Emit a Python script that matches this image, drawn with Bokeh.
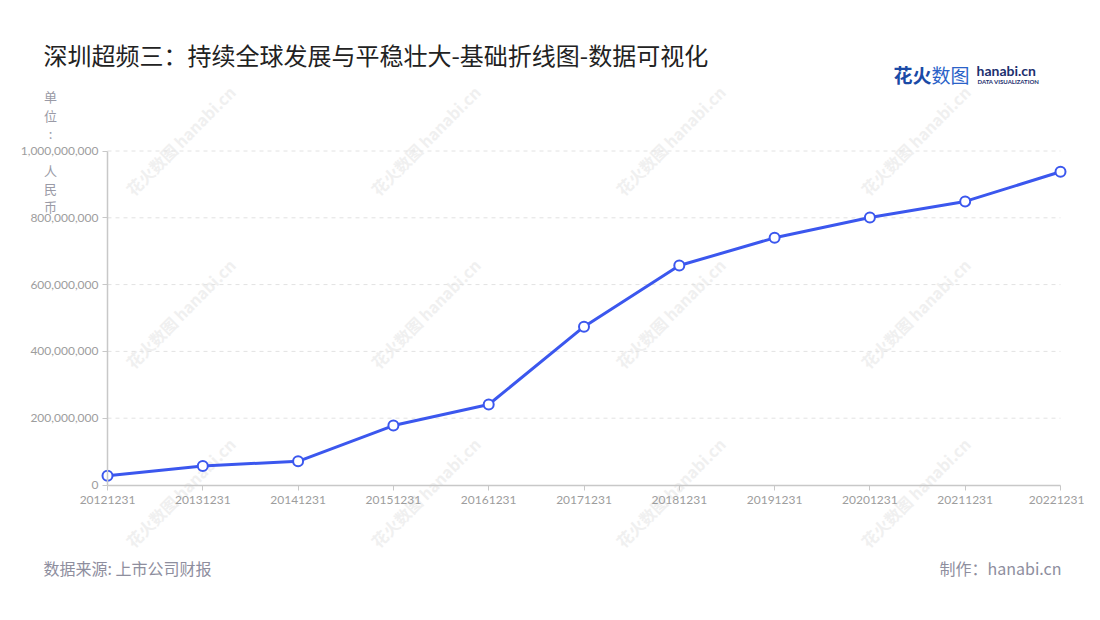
from bokeh.plotting import figure
from bokeh.models import Range1d, FixedTicker, NumeralTickFormatter, Label, ColumnDataSource
from bokeh.embed import file_html
from bokeh.resources import INLINE
import math

# ---------------- data ----------------
dates = ["20121231", "20131231", "20141231", "20151231", "20161231", "20171231",
         "20181231", "20191231", "20201231", "20211231", "20221231"]
revenue = [28e6, 57e6, 71e6, 178e6, 241e6, 474e6, 657e6, 740e6, 801e6, 849e6, 938e6]
y_ticks = [0, 200e6, 400e6, 600e6, 800e6, 1000e6]

title_text = "深圳超频三：持续全球发展与平稳壮大-基础折线图-数据可视化"
unit_top = ["单", "位", ":"]
unit_bottom = ["人", "民", "币"]
source_text = "数据来源: 上市公司财报"
maker_text = "制作：hanabi.cn"
watermark_text = "花火数图 hanabi.cn"

# ---------------- layout (pixels) ----------------
W, H = 1084, 604
X_FIRST_PX, X_LAST_PX = 107.0, 1060.0     # first / last category position
Y_ZERO_PX, Y_TOP_PX = 484.5, 150.5        # y=0 and y=1e9 positions
CJK = "Noto Sans CJK SC"
BLUE = "#3b57ee"

n = len(dates)
idx = list(range(n))
px_per_x = (X_LAST_PX - X_FIRST_PX) / (n - 1)
y_top = y_ticks[-1]
val_per_px = y_top / (Y_ZERO_PX - Y_TOP_PX)

x_range = Range1d(0 - X_FIRST_PX / px_per_x, (n - 1) + (W - X_LAST_PX) / px_per_x)
y_range = Range1d(-(H - Y_ZERO_PX) * val_per_px, y_top + Y_TOP_PX * val_per_px)

p = figure(width=W, height=H, output_backend="svg", toolbar_location=None,
           x_range=x_range, y_range=y_range, title=None,
           min_border_left=0, min_border_right=0, min_border_top=0, min_border_bottom=0)
p.outline_line_color = None
p.background_fill_color = "white"
p.border_fill_color = "white"
p.xgrid.visible = False
p.ygrid.visible = False

src = ColumnDataSource(dict(x=idx, y=revenue))

# watermarks (underlay)
for cx in [180, 425, 670, 915]:
    for cy in [140, 313, 492]:
        p.add_layout(Label(x=cx, y=H - cy, x_units="screen", y_units="screen",
                           text=watermark_text, angle=math.pi / 4, level="underlay",
                           text_font=CJK, text_font_size="16px", text_font_style="bold",
                           text_color="#f0f0f0",
                           text_align="center", text_baseline="middle"))

# dashed horizontal guide lines at the y ticks
grid_y = y_ticks[1:]
p.segment(x0=[0] * len(grid_y), x1=[n - 1] * len(grid_y), y0=grid_y, y1=grid_y,
          line_color="#e2e2e2", line_width=1, line_dash="4 4")

# axes at fixed locations
for ax in (p.xaxis[0], p.yaxis[0]):
    ax.axis_line_color = "#c8c8c8"
    ax.axis_line_width = 1.5
    ax.major_tick_line_color = "#c8c8c8"
    ax.major_tick_line_width = 1
    ax.major_tick_out = 5
    ax.major_tick_in = 0
    ax.minor_tick_line_color = None
    ax.major_label_text_font = "Lato"
    ax.major_label_text_font_size = "12px"
    ax.major_label_text_color = "#9d9d9d"

p.xaxis.fixed_location = 0
p.xaxis.bounds = (0, n - 1)
p.xaxis.ticker = FixedTicker(ticks=idx)
p.xaxis.major_label_overrides = {i: d for i, d in zip(idx, dates)}
p.xaxis.major_label_standoff = 6

p.yaxis.fixed_location = 0
p.yaxis.bounds = (0, y_top)
p.yaxis.ticker = FixedTicker(ticks=y_ticks)
p.yaxis.formatter = NumeralTickFormatter(format="0,0")
p.yaxis.major_label_standoff = 4

# series
p.line("x", "y", source=src, line_color=BLUE, line_width=3)
p.scatter("x", "y", source=src, size=10, fill_color="white", line_color=BLUE, line_width=2)


def lab(text, px, py, size, color, align="left", font=CJK, style="normal"):
    p.add_layout(Label(x=px, y=H - py, x_units="screen", y_units="screen",
                       text=text, text_font=font, text_font_size=size,
                       text_font_style=style, text_color=color,
                       text_align=align, text_baseline="middle"))


lab(title_text, 43, 54, "24px", "#222222")
for i, ch in enumerate(unit_top):
    lab(ch, 50, 96 + i * 18.5, "13px", "#9a9aa6", align="center")
for i, ch in enumerate(unit_bottom):
    lab(ch, 50, 170 + i * 18, "13px", "#9a9aa6", align="center")
lab(source_text, 43, 567, "16px", "#8e8e9e")
lab(maker_text, 1061, 567, "16px", "#8e8e9e", align="right")

# logo
lab("花火", 893, 74, "19px", "#1a4aa6", style="bold")
lab("数图", 931, 74, "19px", "#2a62c8")
lab("hanabi.cn", 976, 70, "14px", "#1c2f6e", style="bold", font="Lato")
lab("DATA VISUALIZATION", 977, 80.5, "6px", "#1c2f6e", font="Lato", style="bold")

open("out.html", "w").write(file_html(p, INLINE))
